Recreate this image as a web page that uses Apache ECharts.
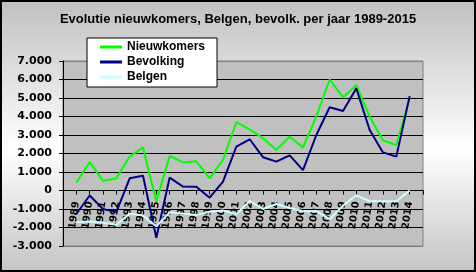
<!DOCTYPE html>
<html><head><meta charset="utf-8">
<script src="https://cdn.jsdelivr.net/npm/echarts@6/dist/echarts.min.js"></script>
<style>html,body{margin:0;padding:0;background:#fff}#c{width:476px;height:272px}</style>
</head><body><div id="c"></div>
<script>
var titleText = 'Evolutie nieuwkomers, Belgen, bevolk. per jaar 1989-2015';
var years = ['1989','1990','1991','1992','1993','1994','1995','1996','1997','1998','1999','2000','2001','2002','2003','2004','2005','2006','2007','2008','2009','2010','2011','2012','2013','2014'];
var nieuwkomers = [430,1530,520,660,1840,2330,-600,1870,1520,1580,660,1650,3690,3300,2820,2190,2910,2330,4000,6000,5040,5700,4000,2700,2460,5000];
var bevolking = [-1270,-270,-1000,-1170,660,800,-2550,700,210,200,-390,480,2370,2770,1800,1560,1900,1100,3000,4500,4300,5520,3270,2060,1830,5100];
var belgen = [-1720,-1680,-1740,-1850,-1250,-1350,-1930,-1180,-1250,-1330,-1150,-1080,-1280,-570,-1000,-720,-950,-1120,-1110,-1550,-820,-260,-580,-580,-580,0];
var seriesNames = ['Nieuwkomers','Bevolking','Belgen'];
var yMin = -3000, yMax = 7000, yStep = 1000;

var gridTop = 61, gridHeight = 185;
function pad(a){ return [null].concat(a, [null]); }
var axisCats = [''].concat(years, ['']);
function fmt(v){
  if (v === 0) return '0';
  var s = Math.abs(v).toString();
  var out = '';
  while (s.length > 3) { out = '.' + s.slice(-3) + out; s = s.slice(0, -3); }
  return (v < 0 ? '-' : '') + s + out;
}
var splitColors = [];
for (var v = yMin; v <= yMax; v += yStep) splitColors.push((v === yMin || v === yMax) ? '#808080' : '#000000');
// place the category axis on the zero line of the value scale
var zeroOffset = -gridHeight * (0 - yMin) / (yMax - yMin);

var chart = echarts.init(document.getElementById('c'), null, {renderer:'canvas'});
chart.setOption({
  animation: false,
  backgroundColor: {type:'linear', x:0, y:0, x2:0, y2:1, colorStops:[
    {offset:0, color:'#c0c0c0'}, {offset:0.55, color:'#ffffff'}, {offset:1, color:'#c4c4c4'}]},
  title: {text: titleText, left: 'center', top: 13, padding: 0,
    textStyle: {fontFamily: 'Liberation Sans', fontWeight: 'bold', fontSize: 13, color: '#000'}},
  legend: {
    orient: 'vertical', left: 87, top: 38,
    padding: [2, 12, 3, 13], itemGap: 1,
    backgroundColor: '#ffffff', borderColor: '#000', borderWidth: 1,
    itemWidth: 22, itemHeight: 3, icon: 'rect',
    data: seriesNames,
    textStyle: {fontFamily: 'Liberation Sans', fontWeight: 'bold', fontSize: 12, color: '#000', lineHeight: 14}
  },
  grid: {left: 63, top: gridTop, width: 360, height: gridHeight, show: true,
    backgroundColor: '#c0c0c0', borderColor: '#808080', borderWidth: 1},
  xAxis: {
    type: 'category', data: axisCats, boundaryGap: false,
    position: 'bottom', offset: zeroOffset,
    axisLine: {onZero: false, lineStyle: {color: '#000', width: 1}},
    axisTick: {show: true, interval: 0, length: 4, lineStyle: {color: '#000'}},
    axisLabel: {interval: 0, rotate: 82, margin: 11, fontFamily: 'DejaVu Sans', fontWeight: 'bold', fontSize: 10, color: '#000'},
    splitLine: {show: false}
  },
  yAxis: {
    type: 'value', min: yMin, max: yMax, interval: yStep,
    axisLine: {show: true, lineStyle: {color: '#000'}},
    axisTick: {show: true, length: 4, lineStyle: {color: '#000'}},
    axisLabel: {formatter: fmt, margin: 11, fontFamily: 'DejaVu Sans', fontWeight: 'bold', fontSize: 11, color: '#000'},
    splitLine: {show: true, lineStyle: {color: splitColors, width: 1}}
  },
  series: [
    {name: seriesNames[0], type: 'line', data: pad(nieuwkomers), showSymbol: false, color: '#00ff00', lineStyle: {width: 2, color: '#00ff00'}},
    {name: seriesNames[1], type: 'line', data: pad(bevolking), showSymbol: false, color: '#000080', lineStyle: {width: 2, color: '#000080'}},
    {name: seriesNames[2], type: 'line', data: pad(belgen), showSymbol: false, color: '#ccffff', lineStyle: {width: 2, color: '#ccffff'}}
  ],
  graphic: [{type: 'rect', z: 100, silent: true, shape: {x: 1, y: 1, width: 474, height: 270},
    style: {fill: null, stroke: '#000', lineWidth: 2}}]
});
</script></body></html>
